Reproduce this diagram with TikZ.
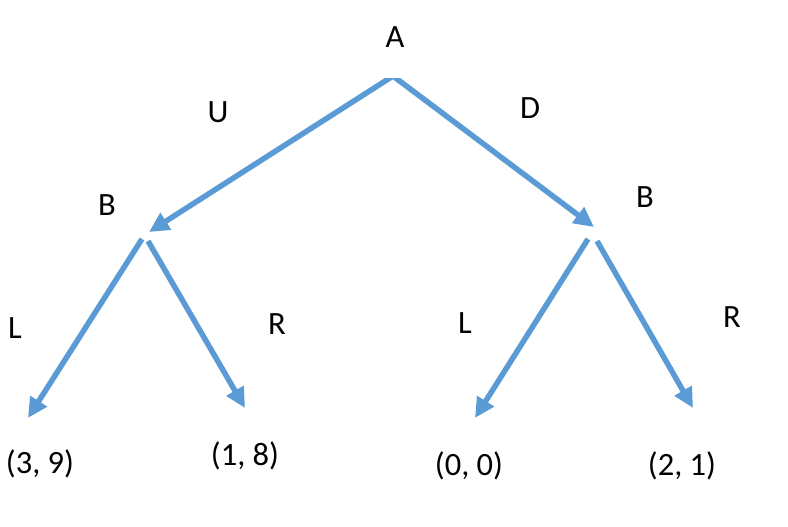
\documentclass[tikz,border=0pt]{standalone}
\usepackage{fontspec}
\setmainfont{Carlito}
\usetikzlibrary{arrows.meta}
\definecolor{edgeblue}{HTML}{5B9BD5}
\begin{document}
\begin{tikzpicture}[x=1pt,y=-1pt,
  lbl/.style={anchor=base,inner sep=0pt,font=\fontsize{32.5}{38}\selectfont},
  edge/.style={draw=edgeblue,line width=5.5pt,-{Triangle[length=20pt,width=19pt]}}]
\useasboundingbox (0,0) rectangle (788,527);
% labels
\node[lbl] (A) at (395,48) {A};
\node[lbl] (U) at (218,122) {U};
\node[lbl] (D) at (530,118) {D};
\node[lbl] (BL) at (107,215) {B};
\node[lbl] (BR) at (645,207) {B};
\node[lbl] (LL) at (15,338) {L};
\node[lbl] (RL) at (277,334) {R};
\node[lbl] (LR) at (465,333) {L};
\node[lbl] (RR) at (732,327) {R};
\node[lbl] (p39) at (40,473) {(3, 9)};
\node[lbl] (p18) at (245,465) {(1, 8)};
\node[lbl] (p00) at (469,475) {(0, 0)};
\node[lbl] (p21) at (682,475) {(2, 1)};
% connector end points
\coordinate (root) at (393,76);
\coordinate (bLtip) at (149,232);
\coordinate (bRtip) at (594,227);
\coordinate (bLs1) at (142,239);
\coordinate (bLs2) at (148,241);
\coordinate (bRs1) at (588,239);
\coordinate (bRs2) at (597,241);
\coordinate (t39) at (28,418);
\coordinate (t18) at (245,408);
\coordinate (t00) at (475,418);
\coordinate (t21) at (693,408);
% connectors
\begin{scope}
\clip (0,78.5) rectangle (788,527);
\draw[edge] (root) -- (bLtip);
\draw[edge] (root) -- (bRtip);
\end{scope}
\draw[edge] (bLs1) -- (t39);
\draw[edge] (bLs2) -- (t18);
\draw[edge] (bRs1) -- (t00);
\draw[edge] (bRs2) -- (t21);
\end{tikzpicture}
\end{document}
